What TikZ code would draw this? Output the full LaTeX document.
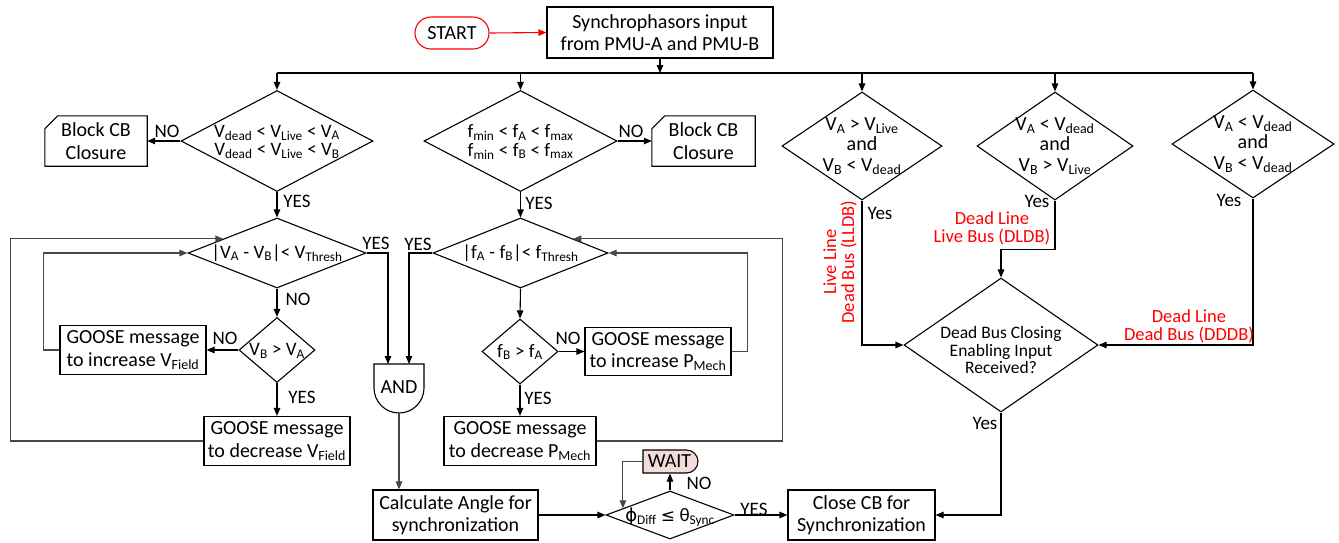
\documentclass[tikz,border=0pt]{standalone}
\usepackage{fontspec}
\setmainfont{Carlito}
\newfontfamily\symfont{DejaVu Sans}
\usetikzlibrary{shapes.geometric,shapes.misc,arrows.meta,calc}
\newcommand\lo[1]{\textsubscript{#1}}
\definecolor{waitpink}{RGB}{242,220,219}
\begin{document}
\begin{tikzpicture}[x=1pt,y=-1pt,
  every node/.style={font=\fontsize{20}{22.5}\selectfont, inner sep=0pt},
  ln/.style={line width=1.1pt, black},
  gl/.style={line width=1.1pt, black!72},
  arr/.style={ln, -{Triangle[length=8pt,width=6.5pt]}},
  garr/.style={gl, -{Triangle[length=8pt,width=6.5pt]}},
  box/.style={draw, line width=1.1pt, align=center},
  dia/.style={draw, diamond, line width=1.1pt, inner sep=0pt},
  dtxt/.style={align=center, font=\fontsize{19}{18.5}\selectfont},
  lab/.style={font=\fontsize{19}{20}\selectfont},
  redlab/.style={text=red, align=center, font=\fontsize{18.5}{18}\selectfont},
]
\useasboundingbox (0,0) rectangle (1339,542);

% top
\node[draw=red, rounded rectangle, minimum width=74, minimum height=32, line width=1.1pt] (start) at (452,33) {START};
\node[box, minimum width=226, minimum height=51] (synch) at (660,32.5) {Synchrophasors input\\from PMU-A and PMU-B};
\draw[red, line width=1.1pt, -{Triangle[length=8pt,width=6.5pt]}] (start.east) -- (synch.west);
\coordinate (bus) at (0,73);

% diamonds
\node[dia, minimum width=192, minimum height=101] (d1) at (277,141) {};
\node[dtxt] (d1t) at (277,142) {V\lo{dead} < V\lo{Live} < V\lo{A}\\V\lo{dead} < V\lo{Live} < V\lo{B}};
\node[dia, minimum width=193, minimum height=101] (d3) at (520.5,141) {};
\node[dtxt] (d3t) at (520.5,142) {f\lo{min} < f\lo{A} < f\lo{max}\\f\lo{min} < f\lo{B} < f\lo{max}};
\node[dia, minimum width=160, minimum height=108] (d5) at (862,146) {};
\node[dtxt, font=\fontsize{20}{20.5}\selectfont] (d5t) at (862,146) {V\lo{A} > V\lo{Live}\\and\\V\lo{B} < V\lo{dead}};
\node[dia, minimum width=156, minimum height=108] (d6) at (1055,146) {};
\node[dtxt, font=\fontsize{20}{20.5}\selectfont] (d6t) at (1055,146) {V\lo{A} < V\lo{dead}\\and\\V\lo{B} > V\lo{Live}};
\node[dia, minimum width=162, minimum height=108] (d7) at (1253,144) {};
\node[dtxt, font=\fontsize{20}{20.5}\selectfont] (d7t) at (1253,144) {V\lo{A} < V\lo{dead}\\and\\V\lo{B} < V\lo{dead}};

\draw[arr] (synch.south) -- (synch.south |- bus);
\draw[ln] (d1.north |- bus) -- (d7.north |- bus);
\foreach \d in {d1,d3,d5,d6,d7} \draw[arr] (\d.north |- bus) -- (\d.north);

% block boxes
\node[align=center, minimum width=102, minimum height=50] (block1) at (96,141) {Block CB\\Closure};
\draw[ln] (block1.south west) -- (block1.south east) -- (block1.north east) -- ([xshift=13pt]block1.north west) -- ([yshift=-13pt]block1.north west) -- cycle;
\node[align=center, minimum width=103, minimum height=50] (block2) at (703.5,141) {Block CB\\Closure};
\draw[ln] (block2.south west) -- (block2.south east) -- (block2.north east) -- ([xshift=13pt]block2.north west) -- ([yshift=-13pt]block2.north west) -- cycle;
\draw[arr] (d1.west) -- (block1.east);
\draw[arr] (d3.east) -- (block2.west);
\node[lab] (no1) at (167,131) {NO};
\node[lab] (no3) at (631,131) {NO};

% V loop
\node[dia, minimum width=178, minimum height=70] (d2) at (277,253) {};
\node[dtxt] (d2t) at (277,253) {|V\lo{A} - V\lo{B}|< V\lo{Thresh}};
\node[dia, minimum width=76, minimum height=65] (sV) at (277,350) {};
\node[dtxt] (sVt) at (277,351) {V\lo{B} > V\lo{A}};
\node[box, minimum width=146, minimum height=49] (gIV) at (133,350) {GOOSE message\\to increase V\lo{Field}};
\node[box, minimum width=146, minimum height=49] (gDV) at (277,441) {GOOSE message\\to decrease V\lo{Field}};
\draw[arr] (d1.south) -- (d2.north);
\node[lab] (yes1) at (297,201) {YES};
\draw[arr] (d2.south) -- (sV.north);
\node[lab] (no2) at (298,299) {NO};
\draw[arr] (sV.west) -- (gIV.east);
\node[lab] (noV) at (225,338) {NO};
\draw[arr] (sV.south) -- (gDV.north);
\node[lab] (yesV) at (302,397) {YES};
\draw[garr] (gIV.west) -- ++(-16,0) |- (d2.west);
\coordinate (d2in) at ($(d2.west)!0.4!(d2.north)$);
\draw[garr] (gDV.west) -- ++(-193,0) |- (d2in);

% f loop
\node[dia, minimum width=175, minimum height=70] (d4) at (520.5,253) {};
\node[dtxt] (d4t) at (520.5,253) {|f\lo{A} - f\lo{B}|< f\lo{Thresh}};
\node[dia, minimum width=76, minimum height=65] (sF) at (520,351.5) {};
\node[dtxt] (sFt) at (520,352) {f\lo{B} > f\lo{A}};
\node[box, minimum width=146, minimum height=48] (gIP) at (658,351.5) {GOOSE message\\to increase P\lo{Mech}};
\node[box, minimum width=152, minimum height=49] (gDP) at (520,441) {GOOSE message\\to decrease P\lo{Mech}};
\draw[arr] (d3.south) -- (d4.north);
\node[lab] (yes3) at (539,203) {YES};
\draw[arr] (d4.south) -- (sF.north);
\draw[arr] (sF.east) -- (gIP.west);
\node[lab] (noF) at (568,338) {NO};
\draw[arr] (sF.south) -- (gDP.north);
\node[lab] (yesF) at (538,398) {YES};
\draw[garr] (gIP.east) -- ++(16,0) |- (d4.east);
\coordinate (d4in) at ($(d4.east)!0.4!(d4.north)$);
\draw[garr] (gDP.east) -- ++(186,0) |- (d4in);

% AND
\node (andg) at (399,387) {AND};
\draw[ln] (374,388) -- (374,364) -- (424,364) -- (424,388) .. controls (424,401.8) and (412.8,413) .. (399,413) .. controls (385.2,413) and (374,401.8) .. (374,388) -- cycle;
\coordinate (andL) at (388,364);
\coordinate (andR) at (409,364);
\coordinate (andB) at (399,413);
\draw[arr] (d2.east) -| (andL);
\node[lab] (yes2) at (376,243) {YES};
\draw[arr] (d4.west) -| (andR);
\node[lab] (yes4) at (418,244) {YES};

% bottom row
\node[box, minimum width=165, minimum height=50] (calc) at (455.5,515) {Calculate Angle for\\synchronization};
\node[dia, minimum width=128, minimum height=48] (phi) at (670,515) {};
\node[dtxt] (phit) at (670,517) {{\symfont\fontsize{18}{18}\selectfont ϕ}\lo{Diff} {\symfont\fontsize{17}{17}\selectfont ≤} θ\lo{Sync}};
\node[box, minimum width=147, minimum height=50] (close) at (861.5,515) {Close CB for\\Synchronization};
\node[draw, rounded rectangle, rounded rectangle left arc=none, fill=waitpink, minimum width=55, minimum height=23, line width=1.1pt] (wait) at (669.5,461.5) {WAIT};
\draw[garr] (andB) -- (andB |- calc.north);
\draw[arr] (calc.east) -- (phi.west);
\draw[arr] (phi.north) -- (phi.north |- wait.south);
\node[lab] (noW) at (699,483) {NO};
\coordinate (phiin) at ($(phi.west)!0.27!(phi.north)$);
\draw[garr] (wait.west) -| (phiin);
\draw[arr] (phi.east) -- (close.west);
\node[lab] (yesP) at (754,509) {YES};

% dead bus
\node[dia, minimum width=194, minimum height=134] (dead) at (1001,345) {};
\node[dtxt, font=\fontsize{17.5}{17.8}\selectfont] (deadt) at (1001,350) {Dead Bus Closing\\Enabling Input\\Received?};
\draw[arr] (d5.south) |- (dead.west);
\node[lab] (yes5) at (880,213) {Yes};
\node[redlab, rotate=90] (lldb) at (840,262) {Live Line\\Dead Bus (LLDB)};
\draw[arr] (d6.south) |- ($(dead.north)+(0,-28)$) -- (dead.north);
\node[lab] (yes6) at (1037,201) {Yes};
\node[redlab] (dldb) at (992,228) {Dead Line\\Live Bus (DLDB)};
\draw[arr] (d7.south) |- (dead.east);
\node[lab] (yes7) at (1229,200) {Yes};
\node[redlab] (dddb) at (1189,326) {Dead Line\\Dead Bus (DDDB)};
\draw[arr] (dead.south) |- (close.east);
\node[lab] (yesD) at (985,423) {Yes};
\end{tikzpicture}
\end{document}
